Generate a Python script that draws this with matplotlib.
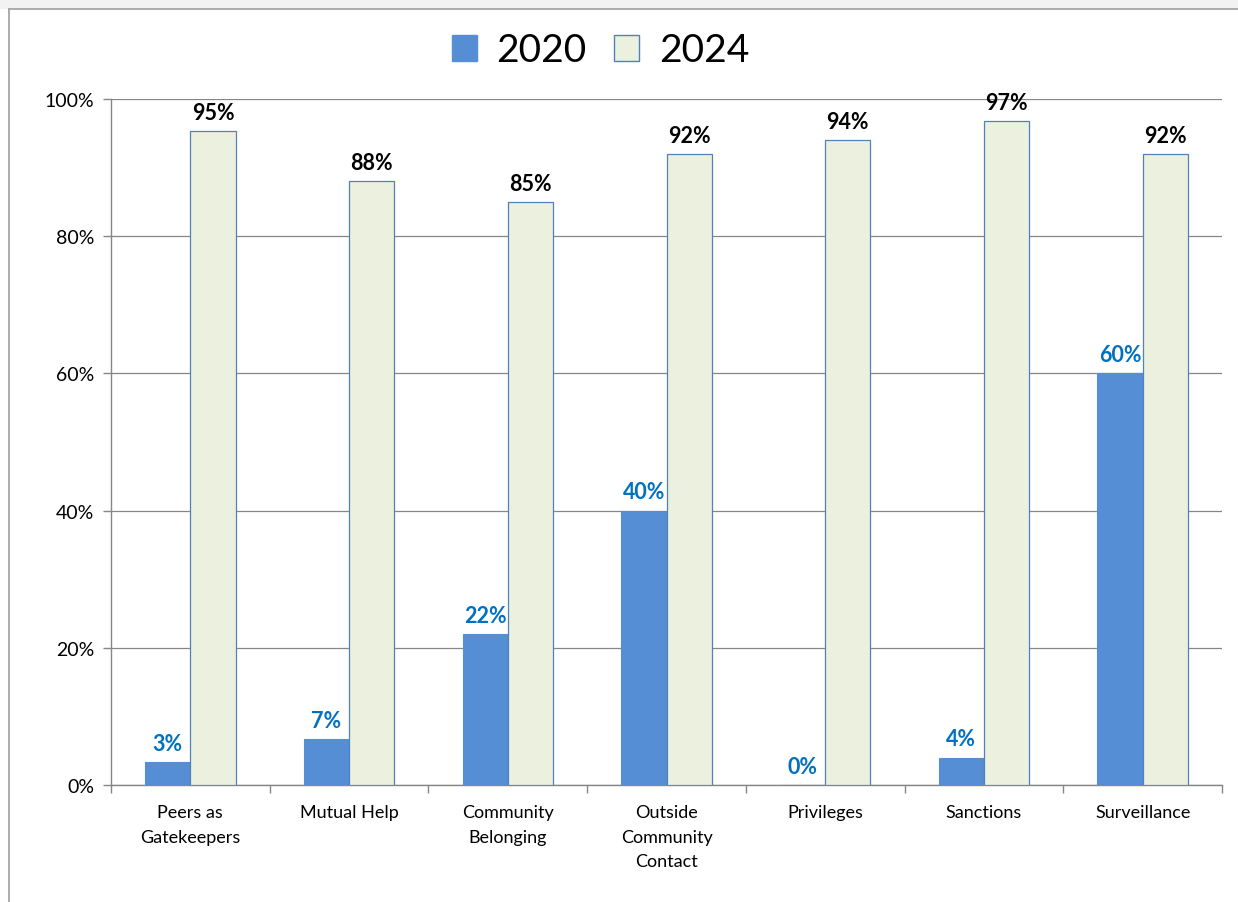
import numpy as np
import matplotlib.pyplot as plt
from matplotlib.patches import Rectangle, Patch
from matplotlib.lines import Line2D

plt.rcParams['font.family'] = ['Lato', 'DejaVu Sans']

# Data
categories = ["Peers as\nGatekeepers", "Mutual Help", "Community\nBelonging",
              "Outside\nCommunity\nContact", "Privileges", "Sanctions", "Surveillance"]
vals_2020 = [3.3, 6.7, 22, 40, 0, 4, 60]
vals_2024 = [95.3, 88, 85, 92, 94, 96.8, 92]
series_names = ["2020", "2024"]

c_2020 = "#558ED5"
c_2024 = "#EBF1DE"
c_edge = "#4F81BD"
c_grid = "#868686"

fig = plt.figure(figsize=(12.38, 9.03), dpi=100)
fig.patch.set_facecolor("white")

# light strip above the chart frame, plus the frame's left/top edges
fig.add_artist(Rectangle((0, 1 - 10 / 903), 1, 10 / 903, transform=fig.transFigure,
                         facecolor="#F2F2F2", edgecolor="none", zorder=0))
fig.add_artist(Line2D([9 / 1238, 9 / 1238], [0, 1 - 10 / 903], transform=fig.transFigure,
                      color="#A6A6A6", lw=1.3))
fig.add_artist(Line2D([9 / 1238, 1], [1 - 10 / 903, 1 - 10 / 903], transform=fig.transFigure,
                      color="#A6A6A6", lw=1.3))

ax = fig.add_axes([111 / 1238, 1 - 786 / 903, (1222 - 111) / 1238, (786 - 100) / 903])

x = np.arange(len(categories))
w = 0.285
b1 = ax.bar(x - w / 2, vals_2020, w, color=c_2020, edgecolor=c_2020, lw=0.8, zorder=3)
b2 = ax.bar(x + w / 2, vals_2024, w, color=c_2024, edgecolor=c_edge, lw=0.9, zorder=3)

for rect, v in zip(b1, vals_2020):
    ax.annotate(f"{v:.0f}%", (rect.get_x() + rect.get_width() / 2, v),
                xytext=(0, 6), textcoords="offset points", ha="center", va="bottom",
                fontsize=15.5, fontweight="bold", color="#0070C0", zorder=4)
for rect, v in zip(b2, vals_2024):
    ax.annotate(f"{v:.0f}%", (rect.get_x() + rect.get_width() / 2, v),
                xytext=(0, 6), textcoords="offset points", ha="center", va="bottom",
                fontsize=15.5, fontweight="bold", color="black", zorder=4)

ax.set_xlim(-0.5, len(categories) - 0.5)
ax.set_ylim(0, 100)
ax.set_yticks(np.arange(0, 101, 20))
ax.set_yticklabels([f"{t}%" for t in range(0, 101, 20)], fontsize=14)
ax.yaxis.grid(True, color=c_grid, lw=0.9, zorder=0)
ax.set_axisbelow(True)

ax.set_xticks(x)
ax.set_xticklabels(categories, fontsize=13, linespacing=1.65)
ax.tick_params(axis="x", length=0, pad=14)
ax.set_xticks(np.arange(-0.5, len(categories)), minor=True)
ax.tick_params(axis="x", which="minor", length=6, color=c_grid, width=1)
ax.tick_params(axis="y", length=6, color=c_grid, width=1, pad=6)

for s in ["top", "right"]:
    ax.spines[s].set_visible(False)
for s in ["left", "bottom"]:
    ax.spines[s].set_color(c_grid)
    ax.spines[s].set_linewidth(1)

handles = [Patch(facecolor=c_2020, edgecolor=c_2020), Patch(facecolor=c_2024, edgecolor=c_edge)]
fig.legend(handles, series_names, loc="center", bbox_to_anchor=(0.485, 0.943), ncol=2,
           frameon=False, fontsize=28, handlelength=0.65, handleheight=0.65,
           handletextpad=0.5, columnspacing=0.7)

fig.savefig("out.png", dpi=100)
